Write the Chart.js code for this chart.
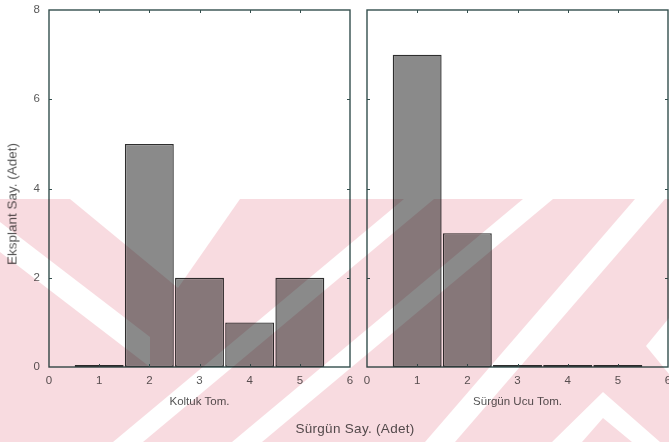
<!DOCTYPE html>
<html>
<head>
<meta charset="utf-8">
<script src="https://cdn.jsdelivr.net/npm/chart.js@4.4.1/dist/chart.umd.min.js"></script>
<style>
  html, body { margin: 0; padding: 0; background: #fff; }
  #wrap { position: relative; width: 669px; height: 442px; overflow: hidden;
          font-family: "Liberation Sans", Arial, Helvetica, sans-serif; color: #555; }
  #wrap canvas { position: absolute; left: 0; top: 0; }
  #ytitle { position: absolute; left: 12px; top: 204px; white-space: nowrap;
            transform: translate(-50%, -50%) rotate(-90deg); font-size: 13.5px; }
  #xtitle { position: absolute; left: 355px; top: 428px; white-space: nowrap;
            transform: translate(-50%, -50%); font-size: 13.5px; letter-spacing: 0.3px; }
  #wm { mix-blend-mode: multiply; pointer-events: none; }
</style>
</head>
<body>
<div id="wrap">
  <canvas id="leftPanel" width="700" height="442"></canvas>
  <canvas id="rightPanel" width="700" height="442"></canvas>
  <div id="ytitle"></div>
  <div id="xtitle"></div>
  <canvas id="wm" width="669" height="442"></canvas>
</div>
<script>
// ---- data ----
const categories = [1, 2, 3, 4, 5];              // Sürgün sayısı (adet)
const koltukTom = [0, 5, 2, 1, 2];               // Koltuk tomurcuğu
const surgunUcuTom = [7, 3, 0, 0, 0];            // Sürgün ucu tomurcuğu
const xTickValues = [0, 1, 2, 3, 4, 5, 6];
const yTickValues = [0, 2, 4, 6, 8];
const panelTitles = ['Koltuk Tom.', 'Sürgün Ucu Tom.'];
const yTitle = 'Eksplant Say. (Adet)';
const xTitle = 'Sürgün Say. (Adet)';

document.getElementById('ytitle').textContent = yTitle;
document.getElementById('xtitle').textContent = xTitle;

Chart.defaults.font.family = '"Liberation Sans", Arial, Helvetica, sans-serif';
Chart.defaults.color = '#5a5a5a';

// box frame around each panel with small inward tick marks
const framePlugin = {
  id: 'frame',
  afterDatasetsDraw(chart, args, opts) {
    const { ctx, chartArea: a, scales: { x, y } } = chart;
    ctx.save();
    ctx.strokeStyle = opts.color;
    ctx.lineWidth = opts.width;
    ctx.strokeRect(a.left, a.top, a.right - a.left, a.bottom - a.top);
    ctx.lineWidth = 1;
    ctx.beginPath();
    x.ticks.forEach(t => {
      if (t.value <= x.min || t.value >= x.max) return;
      const px = Math.round(x.getPixelForValue(t.value)) + 0.5;
      ctx.moveTo(px, a.bottom); ctx.lineTo(px, a.bottom - opts.len);
      ctx.moveTo(px, a.top); ctx.lineTo(px, a.top + opts.len);
    });
    y.ticks.forEach(t => {
      if (t.value <= y.min || t.value >= y.max) return;
      const py = Math.round(y.getPixelForValue(t.value)) + 0.5;
      ctx.moveTo(a.left, py); ctx.lineTo(a.left + opts.len, py);
      ctx.moveTo(a.right, py); ctx.lineTo(a.right - opts.len, py);
    });
    ctx.stroke();
    ctx.restore();
  }
};

function makePanel(id, values, title, opts) {
  return new Chart(document.getElementById(id), {
    type: 'bar',
    data: {
      datasets: [{
        data: categories.map((c, i) => ({ x: c, y: values[i] })),
        backgroundColor: '#8a8a8a',
        borderColor: '#2e2e2e',
        borderWidth: 1.4,
        borderSkipped: false,
        minBarLength: 2,
        barPercentage: 0.975,
        categoryPercentage: 1
      }]
    },
    options: {
      responsive: false,
      animation: false,
      devicePixelRatio: 1,
      layout: { padding: { left: opts.padLeft, right: opts.padRight, top: 10, bottom: 0 } },
      plugins: {
        legend: { display: false },
        tooltip: { enabled: false },
        frame: { color: '#344f4d', width: 1.4, len: 3 }
      },
      scales: {
        x: {
          type: 'linear',
          min: 0, max: 6,
          offset: false,
          afterBuildTicks: s => { s.ticks = xTickValues.map(v => ({ value: v })); },
          ticks: { font: { size: 11.5 }, padding: 7, autoSkip: false, maxRotation: 0 },
          grid: { display: false, drawTicks: false, offset: false },
          border: { display: false },
          title: { display: true, text: title, font: { size: 11.5 }, color: '#555',
                   padding: { top: 0, bottom: 33 } },
          afterFit: s => { s.height = 75; s.paddingLeft = 0; s.paddingRight = 0; }
        },
        y: {
          min: 0, max: 8,
          afterBuildTicks: s => { s.ticks = yTickValues.map(v => ({ value: v })); },
          ticks: { display: opts.yLabels, font: { size: 11.5 }, padding: 9 },
          grid: { display: false, drawTicks: false },
          border: { display: false },
          afterFit: s => { s.width = opts.yWidth; s.paddingTop = 0; s.paddingBottom = 0; }
        }
      }
    },
    plugins: [framePlugin]
  });
}

makePanel('leftPanel', koltukTom, panelTitles[0], { padLeft: 0, padRight: 350, yWidth: 49, yLabels: true });
makePanel('rightPanel', surgunUcuTom, panelTitles[1], { padLeft: 358, padRight: 32, yWidth: 9, yLabels: false });

// faint pink background watermark made of diagonal bands
const wmTop = 199;
const wmColor = 'rgb(248, 219, 224)';
const wmGaps = [
  [[70, 199], [240, 199], [178, 288]],
  [[0, 222], [0, 252], [150, 367], [150, 337]],
  [[113, 442], [143, 442], [434, 199], [404, 199]],
  [[232, 442], [262, 442], [553, 199], [523, 199]],
  [[425, 442], [455, 442], [665, 199], [635, 199]],
  [[603, 392], [660, 442], [632, 442], [603, 418], [582, 442], [552, 442]],
  [[669, 318], [646, 346], [669, 374]]
];
(function drawWatermark() {
  const c = document.getElementById('wm');
  const ctx = c.getContext('2d');
  ctx.fillStyle = wmColor;
  ctx.fillRect(0, wmTop, c.width, c.height - wmTop);
  ctx.globalCompositeOperation = 'destination-out';
  ctx.fillStyle = '#000';
  wmGaps.forEach(poly => {
    ctx.beginPath();
    poly.forEach(([px, py], i) => (i ? ctx.lineTo(px, py) : ctx.moveTo(px, py)));
    ctx.closePath();
    ctx.fill();
  });
})();
</script>
</body>
</html>
